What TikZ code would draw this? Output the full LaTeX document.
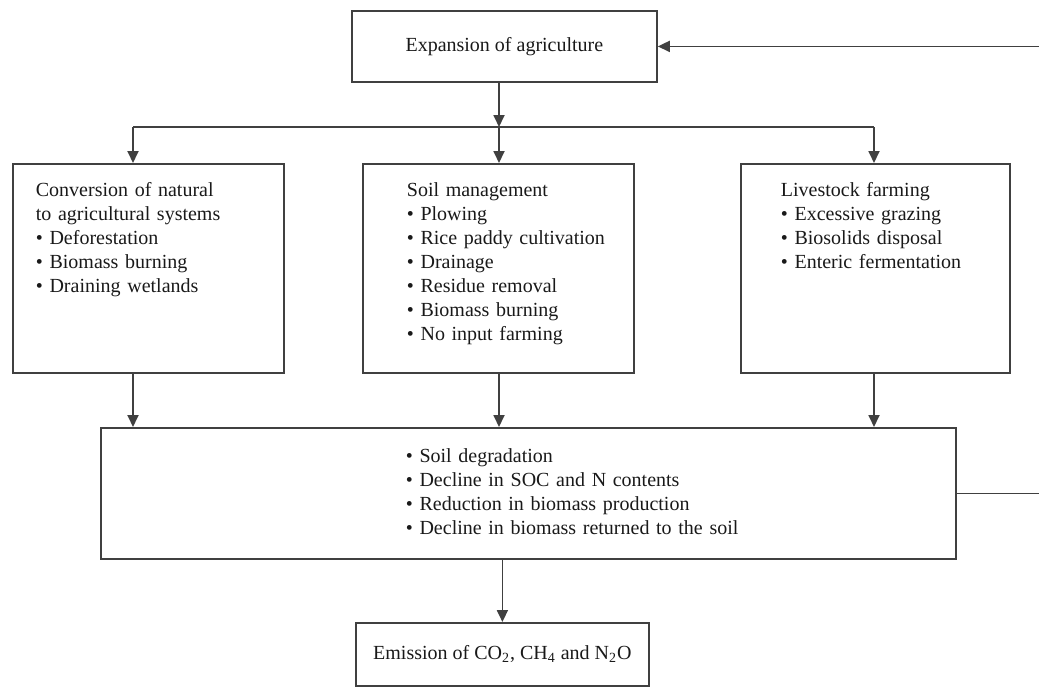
\documentclass[tikz,border=0pt]{standalone}
\usepackage{fontspec}
\setmainfont{Liberation Serif}
\usetikzlibrary{arrows.meta}

\newcommand{\boxlines}[1]{\begin{tabular}[t]{@{}l@{}}#1\end{tabular}}

\begin{document}
\begin{tikzpicture}[x=0.5pt, y=-0.5pt, line width=0.9pt,
  every node/.style={font=\fontsize{10}{12}\selectfont, text=black!90},
  box/.style={draw=black!75, rectangle, inner sep=0pt, anchor=north west, align=left},
  arr/.style={draw=black!75, -{Triangle[length=6pt,width=5.5pt]}},
  link/.style={draw=black!75}]
%%%%% Frame %%%%%
\useasboundingbox (0,0) rectangle (1039,687);
\clip (0,0) rectangle (1039,687);
%%%%% Boxes %%%%%
\node[box, align=center, minimum width=152.5pt, minimum height=35.5pt] (expand) at (351,10) {Expansion of agriculture};
\node[box, text width=135.5pt, text height=16.5pt, text depth=88pt] (conv) at (12,163)
  {\hspace*{11.5pt}\boxlines{Conversion of natural\\to agricultural systems\\\textbullet{} Deforestation\\\textbullet{} Biomass burning\\\textbullet{} Draining wetlands}};
\node[box, text width=135.5pt, text height=16.5pt, text depth=88pt] (soil) at (362,163)
  {\hspace*{22pt}\boxlines{Soil management\\\textbullet{} Plowing\\\textbullet{} Rice paddy cultivation\\\textbullet{} Drainage\\\textbullet{} Residue removal\\\textbullet{} Biomass burning\\\textbullet{} No input farming}};
\node[box, text width=134.5pt, text height=16.5pt, text depth=88pt] (stock) at (740,163)
  {\hspace*{20pt}\boxlines{Livestock farming\\\textbullet{} Excessive grazing\\\textbullet{} Biosolids disposal\\\textbullet{} Enteric fermentation}};
\node[box, text width=427.5pt, text height=17.5pt, text depth=48pt] (effects) at (100,427)
  {\hspace*{152.5pt}\boxlines{\textbullet{} Soil degradation\\\textbullet{} Decline in SOC and N contents\\\textbullet{} Reduction in biomass production\\\textbullet{} Decline in biomass returned to the soil}};
\node[box, align=center, minimum width=146.5pt, minimum height=31.5pt] (emit) at (355,622)
  {Emission of CO\textsubscript{2}, CH\textsubscript{4} and N\textsubscript{2}O};
%%%%% Connectors %%%%%
\coordinate (splitL) at (133,127);
\coordinate (splitM) at (499,127);
\coordinate (splitR) at (874,127);
\coordinate (back) at (1046,0);
\draw[arr] (expand.south -| splitM) -- (splitM);
\draw[link] (splitL) -- (splitR);
\draw[arr] (splitL) -- (splitL |- conv.north);
\draw[arr] (splitM) -- (splitM |- soil.north);
\draw[arr] (splitR) -- (splitR |- stock.north);
\draw[arr] (conv.south -| splitL) -- (splitL |- effects.north);
\draw[arr] (soil.south -| splitM) -- (splitM |- effects.north);
\draw[arr] (stock.south -| splitR) -- (splitR |- effects.north);
\draw[arr] (effects.south -| emit.north) -- (emit.north);
\draw[arr] (effects.east) -| (back) |- (expand.east);
\end{tikzpicture}
\end{document}
